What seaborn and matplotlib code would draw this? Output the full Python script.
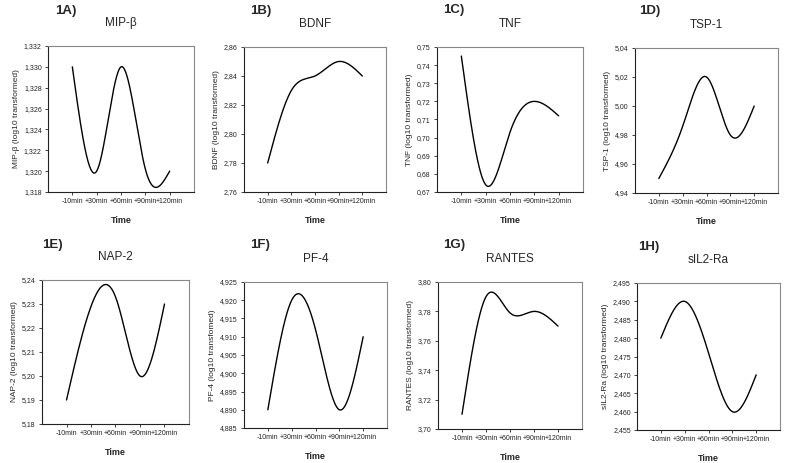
import numpy as np
import pandas as pd
import matplotlib
matplotlib.use("Agg")
import matplotlib.pyplot as plt
import seaborn as sns
from matplotlib.ticker import FuncFormatter, MultipleLocator

sns.set_style("white")
plt.rcParams['font.family'] = ['Liberation Sans', 'DejaVu Sans']

# time points
times = ['-10min', '+30min', '+60min', '+90min', '+120min']

# values per marker (log10 transformed)
mip_b = [1.330, 1.320, 1.330, 1.3202, 1.320]
bdnf = [2.78, 2.83, 2.84, 2.85, 2.84]
tnf = [0.745, 0.674, 0.703, 0.720, 0.712]
tsp1 = [4.950, 4.986, 5.020, 4.980, 5.000]
nap2 = [5.190, 5.229, 5.233, 5.200, 5.230]
pf4 = [4.890, 4.920, 4.912, 4.890, 4.910]
rantes = [3.710, 3.790, 3.779, 3.780, 3.770]
sil2ra = [2.480, 2.490, 2.476, 2.460, 2.470]

labels = ['1A)', '1B)', '1C)', '1D)', '1E)', '1F)', '1G)', '1H)']
names = ['MIP-β', 'BDNF', 'TNF', 'TSP-1', 'NAP-2', 'PF-4', 'RANTES', 'sIL2-Ra']
ylabels = ['MIP-β (log10 transformed)', 'BDNF (log10 transformed)',
           'TNF (log10 transformed)', 'TSP-1 (log10 transformed)',
           'NAP-2 (log10 transformed)', 'PF-4 (log10 transfomed)',
           'RANTES (log10 transformed)', 'sIL2-Ra (log10 transformed)']
series = [mip_b, bdnf, tnf, tsp1, nap2, pf4, rantes, sil2ra]

# y axis settings: (min, max, step, decimals)
yaxes = [(1.318, 1.332, 0.002, 3), (2.76, 2.86, 0.02, 2), (0.67, 0.75, 0.01, 2),
         (4.94, 5.04, 0.02, 2), (5.18, 5.24, 0.01, 2), (4.885, 4.925, 0.005, 3),
         (3.70, 3.80, 0.02, 2), (2.455, 2.495, 0.005, 3)]

# axes boxes in pixels: left, right, top, bottom
boxes = [(48, 194, 46, 192), (244, 386, 47, 192), (437, 583, 47, 192), (635, 778, 48, 193),
         (42, 189, 280, 424), (244, 387, 282, 428), (438, 582, 282, 429), (637, 780, 283, 430)]
label_pos = [(55, 11), (250, 11), (443, 10), (639, 11),
             (42, 245), (250, 245), (443, 245), (638, 247)]
W, H = 787, 463


def natural_spline(x, y, xs):
    # natural cubic spline, like the smoothed interpolation in the original
    x = np.asarray(x, float)
    y = np.asarray(y, float)
    n = len(x)
    h = np.diff(x)
    A = np.zeros((n, n))
    b = np.zeros(n)
    A[0, 0] = A[-1, -1] = 1
    for i in range(1, n - 1):
        A[i, i - 1] = h[i - 1]
        A[i, i] = 2 * (h[i - 1] + h[i])
        A[i, i + 1] = h[i]
        b[i] = 6 * ((y[i + 1] - y[i]) / h[i] - (y[i] - y[i - 1]) / h[i - 1])
    M = np.linalg.solve(A, b)
    out = np.empty_like(xs)
    for j, t in enumerate(xs):
        i = min(np.searchsorted(x, t, side='right') - 1, n - 2)
        dx1 = x[i + 1] - t
        dx0 = t - x[i]
        out[j] = (M[i] * dx1 ** 3 / (6 * h[i]) + M[i + 1] * dx0 ** 3 / (6 * h[i])
                  + (y[i] / h[i] - M[i] * h[i] / 6) * dx1
                  + (y[i + 1] / h[i] - M[i + 1] * h[i] / 6) * dx0)
    return out


fig = plt.figure(figsize=(W / 100, H / 100), dpi=100)
xpos = np.arange(len(times))
xs = np.linspace(0, len(times) - 1, 300)

for k in range(8):
    l, r, t, bt = boxes[k]
    ax = fig.add_axes([l / W, 1 - bt / H, (r - l) / W, (bt - t) / H])
    df = pd.DataFrame({'x': xs, 'y': natural_spline(xpos, series[k], xs)})
    sns.lineplot(data=df, x='x', y='y', ax=ax, color='black', linewidth=1.0)

    ymin, ymax, step, dec = yaxes[k]
    ax.set_ylim(ymin, ymax)
    ax.yaxis.set_major_locator(MultipleLocator(step))
    ax.yaxis.set_major_formatter(FuncFormatter(
        lambda v, p, d=dec: f"{v:.{d}f}".replace('.', ',')))
    ax.set_xlim(-1, len(times))
    ax.set_xticks(xpos)
    ax.set_xticklabels(times)
    ax.tick_params(axis='both', labelsize=5, length=2.5, width=0.6,
                   pad=2, colors='#222222', direction='out',
                   bottom=True, left=True)
    for s in ['left', 'bottom']:
        ax.spines[s].set_color('#222222')
        ax.spines[s].set_linewidth(0.8)
    for s in ['top', 'right']:
        ax.spines[s].set_color('#888888')
        ax.spines[s].set_linewidth(0.8)
    ax.set_xlabel('Time', fontsize=6.5, fontweight='bold', labelpad=8)
    ax.set_ylabel(ylabels[k], fontsize=6, labelpad=3)

    cx = (l + r) / 2
    fig.text(cx / W, 1 - (t - 23) / H, names[k], ha='center', va='center', fontsize=8.5)
    lx, ly = label_pos[k]
    fig.text(lx / W, 1 - ly / H, labels[k], ha='left', va='center',
             fontsize=9.5, fontweight='bold')

fig.savefig('out.png', dpi=100)
